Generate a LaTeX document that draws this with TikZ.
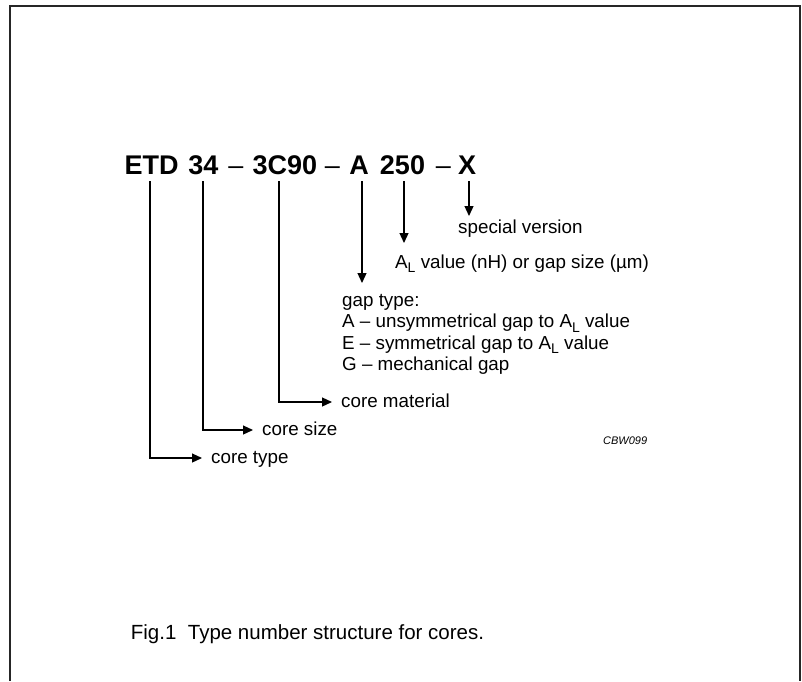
\documentclass[tikz,border=0pt]{standalone}
\usepackage{fontspec}
\setmainfont{Liberation Sans}
\usetikzlibrary{arrows.meta}
\newcommand{\ALsub}{A\raisebox{-4.5pt}{\fontsize{14pt}{14pt}\selectfont L}}
\begin{document}
\begin{tikzpicture}[x=1pt,y=1pt,
  titlepart/.style={font=\fontsize{27pt}{32pt}\selectfont\bfseries, inner sep=0pt, anchor=base, text depth=0pt},
  dashpart/.style={font=\fontsize{27pt}{32pt}\selectfont, inner sep=0pt, anchor=base},
  lbl/.style={font=\fontsize{18.8pt}{22pt}\selectfont, inner sep=0pt, anchor=base west, text height=13.5pt, text depth=4pt},
  sidelbl/.style={font=\fontsize{18.8pt}{22pt}\selectfont, inner ysep=0pt, inner xsep=9pt, anchor=west, text height=11pt, text depth=0pt},
  conn/.style={line width=1.2pt, -{Triangle[length=10pt,width=9pt]}},
  frameline/.style={line width=2pt, draw=black!85, line join=miter}
]
\useasboundingbox (0,0) rectangle (802,-681);
\draw[frameline] (10,-681) -- (10,-6) -- (800,-6) -- (800,-681);

% title parts
\node[titlepart] (etd) at (151.5,-174) {ETD};
\node[titlepart] (n34) at (203.5,-174) {34};
\node[dashpart] (d1) at (236,-174) {–};
\node[titlepart] (n3c90) at (285,-174) {3C90};
\node[dashpart] (d2) at (332.5,-174) {–};
\node[titlepart] (nA) at (359,-174) {A};
\node[titlepart] (n250) at (402.5,-174) {250};
\node[dashpart] (d3) at (443.5,-174) {–};
\node[titlepart] (nX) at (467,-174) {X};

% labels
\node[lbl] (spec) at (458,-233) {special version};
\node[lbl] (alval) at (395,-268) {\ALsub\ value (nH) or gap size (µm)};
\node[lbl] (gap1) at (342,-306) {gap type:};
\node[lbl] (gap2) at (342,-327.5) {A – unsymmetrical gap to \ALsub\ value};
\node[lbl] (gap3) at (342,-349) {E – symmetrical gap to \ALsub\ value};
\node[lbl] (gap4) at (342,-370.5) {G – mechanical gap};
\node[sidelbl] (cmat) at (332,-402) {core material};
\node[sidelbl] (csize) at (253,-430) {core size};
\node[sidelbl] (ctype) at (202,-458) {core type};
\node[font=\fontsize{11pt}{13pt}\selectfont\itshape, anchor=base west, inner sep=0pt] (code) at (603,-444) {CBW099};
\node[font=\fontsize{20.5pt}{24pt}\selectfont, anchor=base, inner sep=0pt] (cap) at (307.5,-639) {Fig.1\ \ Type number structure for cores.};

% arrow tips
\coordinate (tX) at (469,-216);
\coordinate (t250) at (404,-243);
\coordinate (tA) at (362,-283);

% connectors
\draw[conn] ([xshift=2pt,yshift=-7pt]nX.base) -- (tX);
\draw[conn] ([xshift=1.5pt,yshift=-7pt]n250.base) -- (t250);
\draw[conn] ([xshift=3pt,yshift=-7pt]nA.base) -- (tA);
\draw[conn] ([xshift=-6pt,yshift=-7pt]n3c90.base) |- (cmat.west);
\draw[conn] ([xshift=-0.5pt,yshift=-7pt]n34.base) |- (csize.west);
\draw[conn] ([xshift=-1.5pt,yshift=-7pt]etd.base) |- (ctype.west);
\end{tikzpicture}
\end{document}
